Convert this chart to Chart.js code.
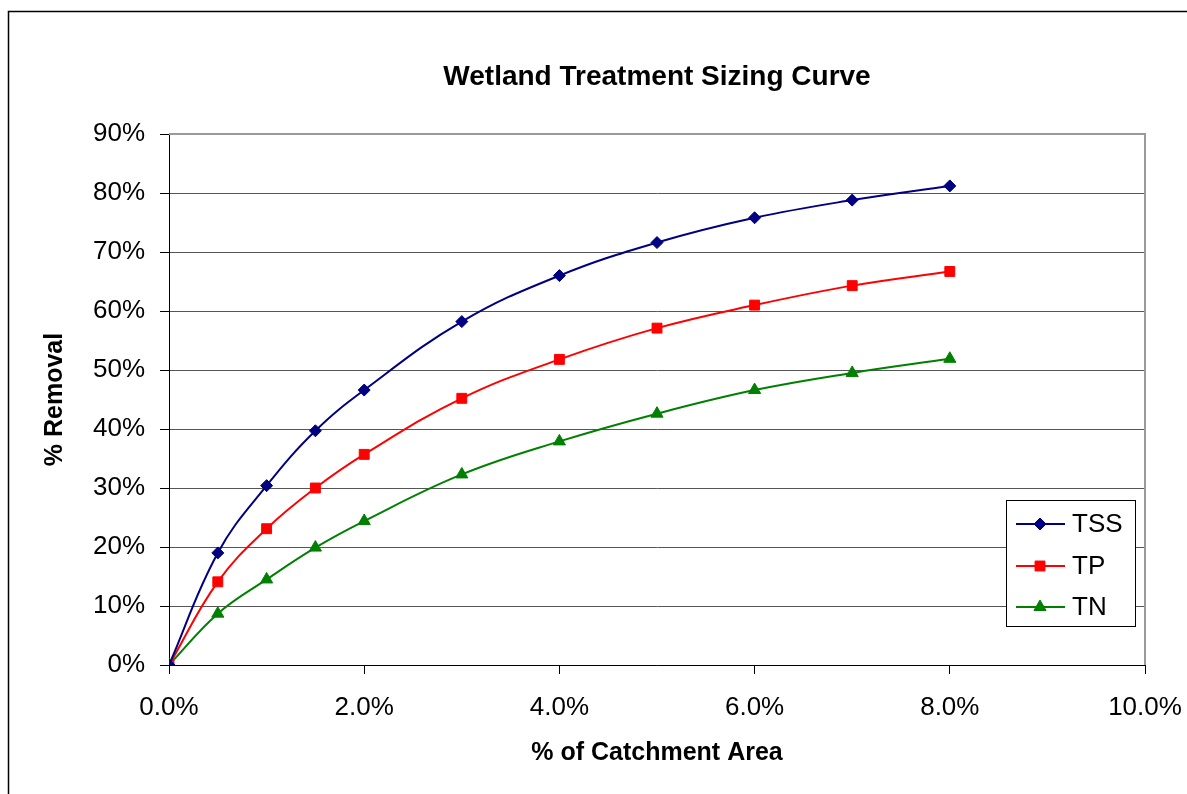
<!DOCTYPE html>
<html><head><meta charset="utf-8">
<style>html,body{margin:0;padding:0;background:#fff;overflow:hidden}canvas{display:block}</style>
<script src="https://cdn.jsdelivr.net/npm/chart.js@4.4.1/dist/chart.umd.min.js"></script>
</head><body><canvas id="c" width="1187" height="794"></canvas>
<script>
const chartTitle = 'Wetland Treatment Sizing Curve';
const xTitle = '% of Catchment Area';
const yTitle = '% Removal';
const catchmentPct = [0, 0.5, 1, 1.5, 2, 3, 4, 5, 6, 7, 8];
const tss = [0, 19.0, 30.4, 39.7, 46.6, 58.2, 66.0, 71.6, 75.8, 78.8, 81.2];
const tp  = [0, 14.1, 23.1, 30.0, 35.7, 45.2, 51.8, 57.1, 61.0, 64.3, 66.7];
const tn  = [0, 8.7, 14.5, 19.9, 24.4, 32.3, 37.9, 42.6, 46.6, 49.5, 51.9];
const seriesNames = ['TSS', 'TP', 'TN'];
const xTicks = [0, 2, 4, 6, 8, 10];
const yTicks = [0, 10, 20, 30, 40, 50, 60, 70, 80, 90];

const FONT = "'Liberation Sans', Arial, sans-serif";
const toPts = arr => arr.map((y, i) => ({x: catchmentPct[i], y}));

function ds(label, data, color, style, radius) {
  return {
    label, data: toPts(data),
    borderColor: color, backgroundColor: color,
    borderWidth: 2, pointStyle: style, pointRadius: radius,
    pointBorderWidth: 1, pointBorderColor: color, pointBackgroundColor: color,
    tension: 0.4, fill: false
  };
}

const frame = {
  id: 'frame',
  beforeDraw(chart) {
    const ctx = chart.ctx;
    ctx.save();
    ctx.fillStyle = '#fff';
    ctx.fillRect(0, 0, chart.width, chart.height);
    ctx.strokeStyle = '#000';
    ctx.lineWidth = 1.5;
    ctx.strokeRect(8.5, 11.5, chart.width + 20, chart.height + 20);
    ctx.restore();
  },
  afterDatasetsDraw(chart) {
    const ctx = chart.ctx, a = chart.chartArea;
    ctx.save();
    ctx.strokeStyle = '#9a9a9a';
    ctx.lineWidth = 2;
    ctx.beginPath();
    ctx.moveTo(a.left, a.top);
    ctx.lineTo(a.right, a.top);
    ctx.lineTo(a.right, a.bottom);
    ctx.stroke();
    // legend box
    const bx = 1006.5, by = 500.5, bw = 129, bh = 126;
    ctx.fillStyle = '#fff';
    ctx.fillRect(bx, by, bw, bh);
    ctx.strokeStyle = '#000';
    ctx.lineWidth = 1;
    ctx.strokeRect(bx, by, bw, bh);
    const rowY = [524, 566, 607];
    chart.data.datasets.forEach((d, i) => {
      const y = rowY[i];
      ctx.strokeStyle = d.borderColor;
      ctx.lineWidth = 2;
      ctx.beginPath();
      ctx.moveTo(1016, y);
      ctx.lineTo(1065, y);
      ctx.stroke();
      ctx.fillStyle = d.pointBackgroundColor;
      ctx.strokeStyle = d.pointBorderColor;
      ctx.lineWidth = 1;
      Chart.helpers.drawPoint(ctx, {pointStyle: d.pointStyle, radius: d.pointRadius, rotation: 0, borderWidth: 1}, 1040, y);
      ctx.fillStyle = '#000';
      ctx.font = '26px ' + FONT;
      ctx.textBaseline = 'middle';
      ctx.textAlign = 'left';
      ctx.fillText(d.label, 1072, y + 1);
    });
    ctx.restore();
  }
};

new Chart(document.getElementById('c'), {
  type: 'line',
  data: {
    datasets: [
      ds(seriesNames[0], tss, '#000080', 'rectRot', 6),
      ds(seriesNames[1], tp, '#ff0000', 'rect', 7),
      ds(seriesNames[2], tn, '#008000', 'triangle', 7)
    ]
  },
  options: {
    responsive: false,
    animation: false,
    layout: {padding: {left: 0, right: 42, top: 0, bottom: 0}},
    plugins: {
      legend: {display: false},
      tooltip: {enabled: false},
      title: {
        display: true, text: chartTitle, fullSize: false, color: '#000',
        font: {family: FONT, size: 28, weight: 'bold'},
        padding: {top: 60, bottom: 40.4}
      }
    },
    scales: {
      x: {
        type: 'linear', min: 0, max: 10,
        afterBuildTicks: s => { s.ticks = xTicks.map(v => ({value: v})); },
        afterFit: s => { s.height = 129; s.paddingLeft = 0; s.paddingRight = 0; },
        grid: {drawOnChartArea: false, drawTicks: true, tickLength: 9, color: '#000', lineWidth: 1},
        border: {color: '#000', width: 1},
        ticks: {color: '#000', padding: 18, maxRotation: 0, font: {family: FONT, size: 26},
          callback: v => v.toFixed(1) + '%'},
        title: {display: true, text: xTitle, color: '#000', font: {family: FONT, size: 25, weight: 'bold'},
          padding: {top: 0, bottom: 26}}
      },
      y: {
        type: 'linear', min: 0, max: 90,
        afterBuildTicks: s => { s.ticks = yTicks.map(v => ({value: v})); },
        afterFit: s => { s.width = 169; },
        grid: {color: '#555555', lineWidth: 1, tickLength: 9, tickColor: '#000'},
        border: {color: '#000', width: 1},
        ticks: {color: '#000', padding: 15, font: {family: FONT, size: 26},
          callback: v => v + '%'},
        title: {display: true, text: yTitle, color: '#000', font: {family: FONT, size: 25, weight: 'bold'},
          padding: {top: 40, bottom: 0}}
      }
    }
  },
  plugins: [frame]
});
</script></body></html>
